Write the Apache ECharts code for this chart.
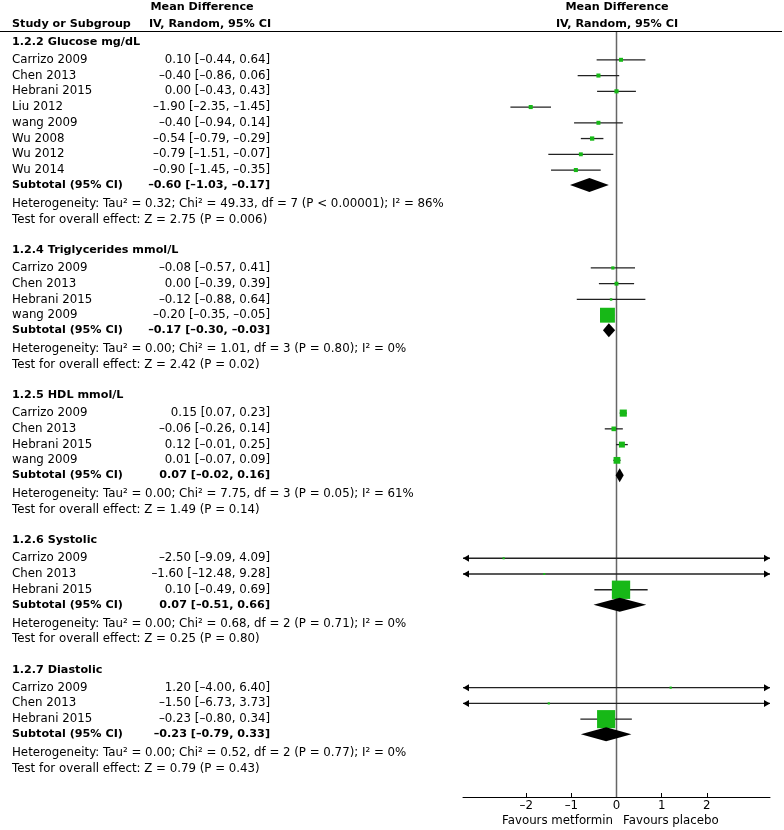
<!DOCTYPE html>
<html><head><meta charset="utf-8">
<script src="https://cdn.jsdelivr.net/npm/echarts@6/dist/echarts.min.js"></script>
<style>html,body{margin:0;padding:0;background:#fff}#c{width:784px;height:830px}</style>
</head><body><div id="c"></div>
<script>
// ---------------- DATA ----------------
const glucoseTitle = '1.2.2 Glucose mg/dL';
const glucoseStudies = ['Carrizo 2009','Chen 2013','Hebrani 2015','Liu 2012','wang 2009','Wu 2008','Wu 2012','Wu 2014'];
const glucoseMD = [0.10,-0.40,0.00,-1.90,-0.40,-0.54,-0.79,-0.90];
const glucoseLo = [-0.44,-0.86,-0.43,-2.35,-0.94,-0.79,-1.51,-1.45];
const glucoseHi = [0.64,0.06,0.43,-1.45,0.14,-0.29,-0.07,-0.35];
const glucoseWeight = [12,12.5,13,12.5,12,14,11.5,12.5];
const glucoseTotal = [-0.60,-1.03,-0.17];
const glucoseHet = 'Heterogeneity: Tau² = 0.32; Chi² = 49.33, df = 7 (P < 0.00001); I² = 86%';
const glucoseTest = 'Test for overall effect: Z = 2.75 (P = 0.006)';

const trigTitle = '1.2.4 Triglycerides mmol/L';
const trigStudies = ['Carrizo 2009','Chen 2013','Hebrani 2015','wang 2009'];
const trigMD = [-0.08,0.00,-0.12,-0.20];
const trigLo = [-0.57,-0.39,-0.88,-0.35];
const trigHi = [0.41,0.39,0.64,-0.05];
const trigWeight = [7.4,11.5,3.0,78.1];
const trigTotal = [-0.17,-0.30,-0.03];
const trigHet = 'Heterogeneity: Tau² = 0.00; Chi² = 1.01, df = 3 (P = 0.80); I² = 0%';
const trigTest = 'Test for overall effect: Z = 2.42 (P = 0.02)';

const hdlTitle = '1.2.5 HDL mmol/L';
const hdlStudies = ['Carrizo 2009','Chen 2013','Hebrani 2015','wang 2009'];
const hdlMD = [0.15,-0.06,0.12,0.01];
const hdlLo = [0.07,-0.26,-0.01,-0.07];
const hdlHi = [0.23,0.14,0.25,0.09];
const hdlWeight = [31,16,24,29];
const hdlTotal = [0.07,-0.02,0.16];
const hdlHet = 'Heterogeneity: Tau² = 0.00; Chi² = 7.75, df = 3 (P = 0.05); I² = 61%';
const hdlTest = 'Test for overall effect: Z = 1.49 (P = 0.14)';

const sysTitle = '1.2.6 Systolic';
const sysStudies = ['Carrizo 2009','Chen 2013','Hebrani 2015'];
const sysMD = [-2.50,-1.60,0.10];
const sysLo = [-9.09,-12.48,-0.49];
const sysHi = [4.09,9.28,0.69];
const sysWeight = [0.8,0.3,98.9];
const sysTotal = [0.07,-0.51,0.66];
const sysHet = 'Heterogeneity: Tau² = 0.00; Chi² = 0.68, df = 2 (P = 0.71); I² = 0%';
const sysTest = 'Test for overall effect: Z = 0.25 (P = 0.80)';

const diaTitle = '1.2.7 Diastolic';
const diaStudies = ['Carrizo 2009','Chen 2013','Hebrani 2015'];
const diaMD = [1.20,-1.50,-0.23];
const diaLo = [-4.00,-6.73,-0.80];
const diaHi = [6.40,3.73,0.34];
const diaWeight = [1.2,1.2,97.6];
const diaTotal = [-0.23,-0.79,0.33];
const diaHet = 'Heterogeneity: Tau² = 0.00; Chi² = 0.52, df = 2 (P = 0.77); I² = 0%';
const diaTest = 'Test for overall effect: Z = 0.79 (P = 0.43)';

const xTicks = [-2,-1,0,1,2];
const xMin = -3.4, xMax = 3.4;
const favLeft = 'Favours metformin';
const favRight = 'Favours placebo';

// ---------------- LAYOUT ----------------
const groups = [
  {title:glucoseTitle, studies:glucoseStudies, md:glucoseMD, lo:glucoseLo, hi:glucoseHi, w:glucoseWeight, total:glucoseTotal, het:glucoseHet, test:glucoseTest},
  {title:trigTitle, studies:trigStudies, md:trigMD, lo:trigLo, hi:trigHi, w:trigWeight, total:trigTotal, het:trigHet, test:trigTest},
  {title:hdlTitle, studies:hdlStudies, md:hdlMD, lo:hdlLo, hi:hdlHi, w:hdlWeight, total:hdlTotal, het:hdlHet, test:hdlTest},
  {title:sysTitle, studies:sysStudies, md:sysMD, lo:sysLo, hi:sysHi, w:sysWeight, total:sysTotal, het:sysHet, test:sysTest},
  {title:diaTitle, studies:diaStudies, md:diaMD, lo:diaLo, hi:diaHi, w:diaWeight, total:diaTotal, het:diaHet, test:diaTest}
];
const HGT = 830;
const GRID_TOP = 32, GRID_BOTTOM = 33, GRID_LEFT = 463, GRID_RIGHT = 14;
const ROW = 15.75;
const YMAX = (HGT - GRID_TOP - GRID_BOTTOM) / ROW;
const STEP = {first: 10/ROW, hs: 17.8/ROW, ss: 1, sub: 15/ROW, het: 18.8/ROW, test: 15.8/ROW, next: 30.5/ROW};
const FONT = 'DejaVu Sans';
const FS = 11.8, FSB = 11.2;
const NAME_X = 12, EST_X = 270;

function fmt(v){ return (v < 0 ? '–' : '') + Math.abs(v).toFixed(2); }
function ciText(md, lo, hi){ return fmt(md) + ' [' + fmt(lo) + ', ' + fmt(hi) + ']'; }

const rows = [];
let yy = STEP.first;
groups.forEach((g, gi) => {
  if (gi > 0) yy += STEP.next;
  rows.push({kind:'header', y:yy, text:g.title});
  g.studies.forEach((s, i) => {
    yy += (i === 0 ? STEP.hs : STEP.ss);
    rows.push({kind:'study', y:yy, name:s, md:g.md[i], lo:g.lo[i], hi:g.hi[i], w:g.w[i]});
  });
  yy += STEP.sub;
  rows.push({kind:'subtotal', y:yy, name:'Subtotal (95% CI)', md:g.total[0], lo:g.total[1], hi:g.total[2]});
  yy += STEP.het;
  rows.push({kind:'het', y:yy, text:g.het});
  yy += STEP.test;
  rows.push({kind:'test', y:yy, text:g.test});
});

const GREEN = '#17b817';
const fontN = FS + 'px "' + FONT + '"';
const fontB = 'bold ' + FSB + 'px "' + FONT + '"';
function txt(text, x, y, bold, align){
  return {type:'text', style:{text:text, x:x, y:y, fill:'#000', align:align||'left', verticalAlign:'middle',
    font: bold ? fontB : fontN}};
}

function renderItem(params, api){
  const r = rows[params.dataIndex];
  const py = api.coord([0, r.y])[1];
  const children = [];
  if (r.kind === 'header') {
    children.push(txt(r.text, NAME_X, py, true));
  } else if (r.kind === 'het' || r.kind === 'test') {
    children.push(txt(r.text, NAME_X, py, false));
  } else if (r.kind === 'study') {
    children.push(txt(r.name, NAME_X, py, false));
    children.push(txt(ciText(r.md, r.lo, r.hi), EST_X, py, false, 'right'));
    const lo = Math.max(r.lo, xMin), hi = Math.min(r.hi, xMax);
    const x1 = api.coord([lo, r.y])[0], x2 = api.coord([hi, r.y])[0];
    children.push({type:'line', shape:{x1:x1, y1:py, x2:x2, y2:py}, style:{stroke:'#222', lineWidth:1.3}});
    if (r.lo < xMin) children.push({type:'polygon', shape:{points:[[x1,py],[x1+6,py-3.5],[x1+6,py+3.5]]}, style:{fill:'#000'}});
    if (r.hi > xMax) children.push({type:'polygon', shape:{points:[[x2,py],[x2-6,py-3.5],[x2-6,py+3.5]]}, style:{fill:'#000'}});
    const xm = api.coord([r.md, r.y])[0];
    const s = 2 + 0.165 * r.w;
    children.push({type:'rect', shape:{x:xm - s/2, y:py - s/2, width:s, height:s}, style:{fill:GREEN}});
  } else if (r.kind === 'subtotal') {
    children.push(txt(r.name, NAME_X, py, true));
    children.push(txt(ciText(r.md, r.lo, r.hi), EST_X, py, true, 'right'));
    const xl = api.coord([r.lo, r.y])[0], xm = api.coord([r.md, r.y])[0], xh = api.coord([r.hi, r.y])[0];
    children.push({type:'polygon', shape:{points:[[xl,py],[xm,py-7],[xh,py],[xm,py+7]]}, style:{fill:'#000'}});
  }
  return {type:'group', children:children};
}

const chart = echarts.init(document.getElementById('c'), null, {renderer:'canvas'});
chart.setOption({
  animation:false,
  backgroundColor:'#fff',
  textStyle:{fontFamily:FONT},
  grid:{left:GRID_LEFT, right:GRID_RIGHT, top:GRID_TOP, bottom:GRID_BOTTOM, containLabel:false},
  xAxis:{type:'value', min:xMin, max:xMax, position:'bottom',
    axisLine:{show:true, onZero:false, lineStyle:{color:'#000', width:1}},
    axisTick:{show:true, customValues:xTicks, inside:true, length:4, lineStyle:{color:'#000'}},
    axisLabel:{show:true, customValues:xTicks, margin:3, fontSize:FS, color:'#000', fontFamily:FONT,
      formatter:v => (v < 0 ? '–' : '') + Math.abs(v)},
    splitLine:{show:false}},
  yAxis:{type:'value', min:0, max:YMAX, inverse:true, show:false},
  graphic:[
    {type:'line', shape:{x1:0, y1:31.5, x2:782, y2:31.5}, style:{stroke:'#000', lineWidth:1}},
    {type:'text', style:{text:'Study or Subgroup', x:NAME_X, y:24, verticalAlign:'middle', font:fontB, fill:'#000'}},
    {type:'text', style:{text:'Mean Difference', x:202, y:7.5, align:'center', verticalAlign:'middle', font:fontB, fill:'#000'}},
    {type:'text', style:{text:'IV, Random, 95% CI', x:210, y:24, align:'center', verticalAlign:'middle', font:fontB, fill:'#000'}},
    {type:'text', style:{text:'Mean Difference', x:617, y:7.5, align:'center', verticalAlign:'middle', font:fontB, fill:'#000'}},
    {type:'text', style:{text:'IV, Random, 95% CI', x:617, y:24, align:'center', verticalAlign:'middle', font:fontB, fill:'#000'}},
    {type:'text', style:{text:favLeft, x:613, y:821, align:'right', verticalAlign:'middle', font:fontN, fill:'#000'}},
    {type:'text', style:{text:favRight, x:623, y:821, align:'left', verticalAlign:'middle', font:fontN, fill:'#000'}}
  ],
  series:[
    {type:'line', z:1, silent:true, symbol:'none', data:[[0,0],[0,YMAX]], lineStyle:{color:'#666', width:1.5}},
    {type:'custom', z:2, clip:false, silent:true, renderItem:renderItem,
      data:rows.map(r => [r.md !== undefined ? r.md : 0, r.y])}
  ]
});
</script>
</body></html>
